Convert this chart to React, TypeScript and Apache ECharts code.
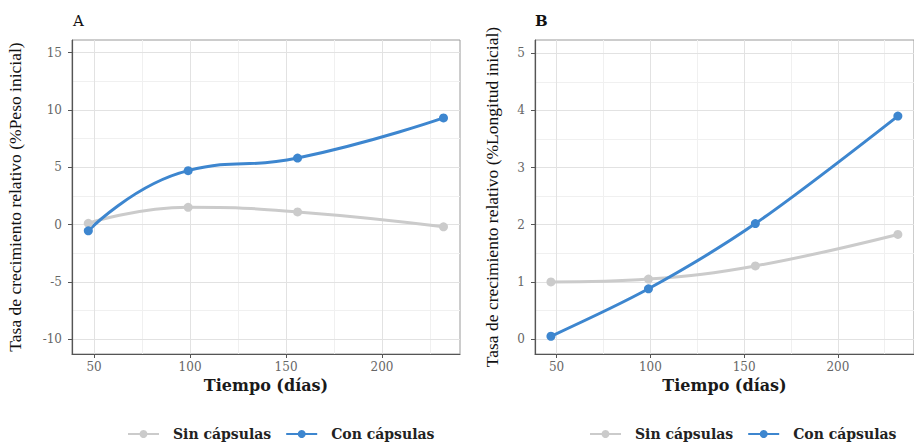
import React, { useEffect, useRef } from "react";
import * as echarts from "echarts";

const days = [47, 99, 156, 232];
const pesoSin = [0.1, 1.5, 1.1, -0.2];
const pesoCon = [-0.55, 4.7, 5.8, 9.3];
const longSin = [1.0, 1.05, 1.28, 1.83];
const longCon = [0.05, 0.88, 2.02, 3.9];
const xTicks = [50, 100, 150, 200];
const xMinor = [75, 125, 175, 225];
const pesoTicks = [-10, -5, 0, 5, 10, 15];
const pesoMinor = [-7.5, -2.5, 2.5, 7.5, 12.5];
const longTicks = [0, 1, 2, 3, 4, 5];
const longMinor = [0.5, 1.5, 2.5, 3.5, 4.5];
const seriesNames = ["Sin cápsulas", "Con cápsulas"];

const BLUE = "#3d86cf";
const GRAY = "#cbcbcb";
const SERIF = "'Liberation Serif', serif";
const WIDE = "'DejaVu Serif', serif";

function gridLines(xs: number[], xm: number[], ys: number[], ym: number[]) {
  const major = { color: "#e2e2e2", width: 1, type: "solid" };
  const minor = { color: "#f0f0f0", width: 1, type: "solid" };
  return {
    silent: true,
    symbol: ["none", "none"],
    label: { show: false },
    z: 0,
    animation: false,
    data: [
      ...xm.map((v) => ({ xAxis: v, lineStyle: minor })),
      ...ym.map((v) => ({ yAxis: v, lineStyle: minor })),
      ...xs.map((v) => ({ xAxis: v, lineStyle: major })),
      ...ys.map((v) => ({ yAxis: v, lineStyle: major })),
    ],
  };
}

function xAxisOpt(gridIndex: number) {
  return {
    type: "value",
    gridIndex,
    min: 38.5,
    max: 240.6,
    name: "Tiempo (días)",
    nameLocation: "middle",
    nameGap: 23,
    nameTextStyle: { fontFamily: WIDE, fontSize: 16, fontWeight: "bold", color: "#1a1a1a" },
    axisLine: { show: true, onZero: false, lineStyle: { color: "#555", width: 1.2 } },
    axisTick: { show: true, length: 4, customValues: xTicks, lineStyle: { color: "#555" } },
    axisLabel: { customValues: xTicks, fontFamily: WIDE, fontSize: 12, color: "#666", margin: 7 },
    splitLine: { show: false },
  };
}

function yAxisOpt(gridIndex: number, min: number, max: number, ticks: number[], name: string, gap: number) {
  return {
    type: "value",
    gridIndex,
    min,
    max,
    name,
    nameLocation: "middle",
    nameGap: gap,
    nameTextStyle: { fontFamily: SERIF, fontSize: 17.5, color: "#111" },
    axisLine: { show: true, onZero: false, lineStyle: { color: "#555", width: 1.2 } },
    axisTick: { show: true, length: 4, customValues: ticks, lineStyle: { color: "#555" } },
    axisLabel: { customValues: ticks, fontFamily: WIDE, fontSize: 12, color: "#666", margin: 10 },
    splitLine: { show: false },
  };
}

function lineSeries(name: string, data: number[], color: string, idx: number, smooth: number, extra?: any) {
  return {
    type: "line",
    name,
    xAxisIndex: idx,
    yAxisIndex: idx,
    data: days.map((d, i) => [d, data[i]]),
    smooth,
    symbol: "circle",
    symbolSize: 9,
    showSymbol: true,
    lineStyle: { color, width: 3 },
    itemStyle: { color },
    z: 3,
    ...(extra || {}),
  };
}

export default function App() {
  const ref = useRef<HTMLDivElement>(null);
  useEffect(() => {
    if (!ref.current) return;
    const chart = echarts.init(ref.current, undefined, { renderer: "svg" });
    const legendBase = {
      top: 424,
      padding: 2,
      itemWidth: 31,
      itemHeight: 10,
      itemGap: 14,
      data: seriesNames,
      textStyle: { fontFamily: WIDE, fontSize: 14, lineHeight: 16, fontWeight: "bold", color: "#222", padding: [0, 0, 0, 9] },
    };
    chart.setOption({
      animation: false,
      backgroundColor: "#fff",
      grid: [
        { left: 72, top: 40, width: 388, height: 314, show: true, borderColor: "#9a9a9a", borderWidth: 1 },
        { left: 535, top: 40, width: 388, height: 314, show: true, borderColor: "#9a9a9a", borderWidth: 1 },
      ],
      xAxis: [xAxisOpt(0), xAxisOpt(1)],
      yAxis: [
        yAxisOpt(0, -11.3, 16.1, pesoTicks, "Tasa de crecimiento relativo (%Peso inicial)", 48),
        yAxisOpt(1, -0.26, 5.23, longTicks, "Tasa de crecimiento relativo (%Longitud inicial)", 34),
      ],
      legend: [
        { ...legendBase, left: 125 },
        { ...legendBase, left: 587 },
      ],
      graphic: [
        { type: "text", left: 73, top: 13, style: { text: "A", fontFamily: WIDE, fontSize: 15, fill: "#111" } },
        { type: "text", left: 535, top: 13, style: { text: "B", fontFamily: WIDE, fontSize: 15, fontWeight: "bold", fill: "#111" } },
      ],
      series: [
        lineSeries(seriesNames[0], pesoSin, GRAY, 0, 0.5, { markLine: gridLines(xTicks, xMinor, pesoTicks, pesoMinor) }),
        lineSeries(seriesNames[1], pesoCon, BLUE, 0, 0.5),
        lineSeries(seriesNames[0], longSin, GRAY, 1, 0.4, { markLine: gridLines(xTicks, xMinor, longTicks, longMinor) }),
        lineSeries(seriesNames[1], longCon, BLUE, 1, 0.3),
      ],
    });
    return () => chart.dispose();
  }, []);
  return <div ref={ref} style={{ width: 914, height: 446, position: "absolute", left: 0, top: 0 }} />;
}
